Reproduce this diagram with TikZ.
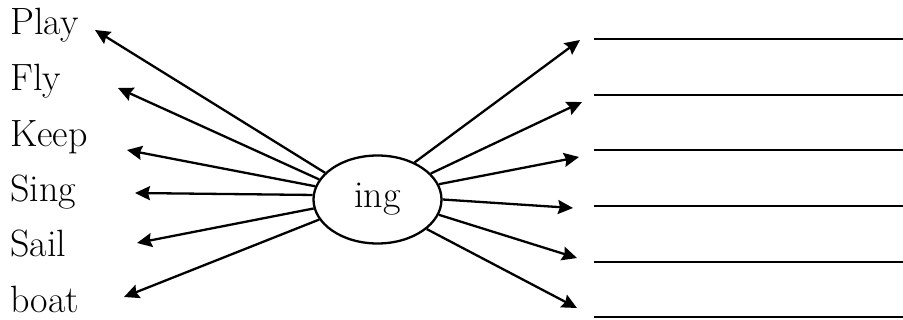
\documentclass[tikz,border=0pt]{standalone}
\usepackage{fontspec}
\usetikzlibrary{shapes.geometric,arrows.meta}
\begin{document}
\begin{tikzpicture}[x=1pt,y=-1pt,
  word/.style={anchor=base west,inner sep=0pt,font=\fontsize{38}{44}\selectfont},
  hub/.style={draw,ellipse,line width=2.3pt,minimum width=128pt,minimum height=88pt,inner sep=0pt,font=\fontsize{38}{44}\selectfont},
  arr/.style={line width=2.3pt,-{Stealth[length=15pt,width=14pt,inset=2pt]}},
  blank/.style={line width=2.6pt}]
\useasboundingbox (0,0) rectangle (903,320);
\node[hub] (ing) at (377.5,199.5) {ing};
\node[word] (w1) at (10,35) {Play};
\node[word] (w2) at (10,91) {Fly};
\node[word] (w3) at (10,147) {Keep};
\node[word] (w4) at (10,202) {Sing};
\node[word] (w5) at (10,257) {Sail};
\node[word] (w6) at (10,313) {boat};
\coordinate (t1) at (95,30);
\coordinate (t2) at (118,88);
\coordinate (t3) at (127,150);
\coordinate (t4) at (135,193);
\coordinate (t5) at (137,243);
\coordinate (t6) at (124,297);
\draw[arr] (ing.153.6) -- (t1);
\draw[arr] (ing.161.9) -- (t2);
\draw[arr] (ing.168.7) -- (t3);
\draw[arr] (ing.176.9) -- (t4);
\draw[arr] (ing.188.6) -- (t5);
\draw[arr] (ing.199.6) -- (t6);
\coordinate (r1) at (580,40);
\coordinate (r2) at (582,102);
\coordinate (r3) at (579,157);
\coordinate (r4) at (573,208);
\coordinate (r5) at (577,258);
\coordinate (r6) at (577,308);
\draw[arr] (ing.45) -- (r1);
\draw[arr] (ing.26.8) -- (r2);
\draw[arr] (ing.14.8) -- (r3);
\draw[arr] (ing.-0.5) -- (r4);
\draw[arr] (ing.-14.4) -- (r5);
\draw[arr] (ing.-31.1) -- (r6);
\foreach \i/\y in {1/39,2/95,3/150,4/206,5/262,6/317}{
  \coordinate (a\i) at (594,\y);
  \coordinate (b\i) at (903,\y);
  \draw[blank] (a\i) -- (b\i);
}
\end{tikzpicture}
\end{document}
